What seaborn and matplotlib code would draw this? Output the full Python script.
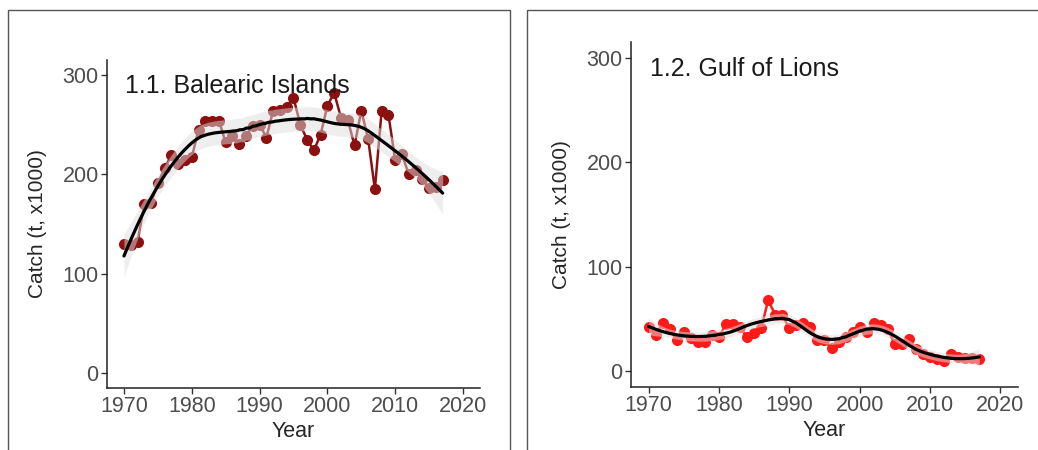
import numpy as np
import pandas as pd
import matplotlib
matplotlib.use("Agg")
import matplotlib.pyplot as plt
from matplotlib.patches import Rectangle
import seaborn as sns

# yearly catch, t x1000
years = list(range(1970, 2018))
balearic = [130, 129, 132, 170, 171, 191, 206, 219, 210, 214,
            217, 245, 254, 254, 254, 232, 239, 230, 239, 249,
            250, 237, 264, 265, 268, 277, 250, 235, 224, 240,
            269, 282, 257, 255, 229, 264, 236, 185, 264, 260,
            214, 220, 200, 204, 195, 186, 187, 194]
gulf_lions = [42, 35, 46, 40, 30, 38, 32, 28, 28, 35,
              33, 45, 45, 42, 33, 37, 41, 68, 54, 54,
              41, 44, 46, 42, 30, 30, 22, 28, 33, 38,
              42, 38, 46, 44, 40, 26, 26, 31, 21, 17,
              14, 12, 10, 17, 14, 13, 13, 12]
panel_titles = ["1.1. Balearic Islands", "1.2. Gulf of Lions"]
year_ticks = [1970, 1980, 1990, 2000, 2010, 2020]
catch_ticks = [0, 100, 200, 300]


def loess(x, y, span=0.3, n_grid=100):
    # local quadratic fit with tricube weights, plus a 95% band
    x = np.asarray(x, float)
    y = np.asarray(y, float)
    n = len(x)
    k = int(np.ceil(span * n))
    X = np.column_stack([np.ones(n), x - x.mean(), (x - x.mean()) ** 2])

    def row(x0):
        d = np.abs(x - x0)
        h = np.sort(d)[k - 1] * max(1.0, span)
        w = np.clip(1 - (d / h) ** 3, 0, None) ** 3
        x0c = x0 - x.mean()
        W = np.diag(w)
        A = X.T @ W @ X
        return np.array([1, x0c, x0c ** 2]) @ np.linalg.solve(A, X.T @ W)

    L = np.array([row(v) for v in x])
    resid = y - L @ y
    dof = n - np.trace(L)
    sigma = np.sqrt(np.sum(resid ** 2) / dof)
    grid = np.linspace(x.min(), x.max(), n_grid)
    Lg = np.array([row(v) for v in grid])
    fit = Lg @ y
    se = sigma * np.sqrt(np.sum(Lg ** 2, axis=1))
    return grid, fit, 2.01 * se


df = pd.DataFrame({"Year": years, "Balearic": balearic, "Gulf": gulf_lions})

sns.set_style("ticks")
plt.rcParams['font.family'] = ['Liberation Sans', 'DejaVu Sans']

fig = plt.figure(figsize=(10.38, 4.5), dpi=100)

# panel frames
fig.patches.append(Rectangle((0.0077, -0.1), 0.4836, 1.0778, transform=fig.transFigure,
                             fill=False, edgecolor='#555555', lw=1.0))
fig.patches.append(Rectangle((0.5077, -0.1), 0.55, 1.0778, transform=fig.transFigure,
                             fill=False, edgecolor='#555555', lw=1.0))

ax1 = fig.add_axes([0.1031, 0.1378, 0.3593, 0.7289])
ax2 = fig.add_axes([0.6079, 0.1400, 0.3728, 0.7667])

panels = [(ax1, "Balearic", "#8B1010", panel_titles[0], 0.5),
          (ax2, "Gulf", "#FF1A1A", panel_titles[1], 0.38)]

for ax, col, color, title, span in panels:
    sns.lineplot(data=df, x="Year", y=col, ax=ax, color=color, lw=1.8,
                 marker='o', markersize=8, markeredgewidth=0, zorder=2)
    gx, gfit, band = loess(df["Year"], df[col], span=span)
    ax.fill_between(gx, gfit - band, gfit + band, color='#DEDEDE', alpha=0.5,
                    lw=0, zorder=3)
    ax.plot(gx, gfit, color='black', lw=2.3, zorder=4)

    ax.set_xlim(1967.5, 2022.5)
    ax.set_ylim(-15, 315)
    ax.set_xticks(year_ticks)
    ax.set_yticks(catch_ticks)
    ax.set_xlabel("Year", fontsize=15.5, labelpad=3)
    ax.set_ylabel("Catch (t, x1000)", fontsize=15, labelpad=11)
    ax.tick_params(labelsize=15.5, colors='#333333', labelcolor='#4D4D4D',
                   length=4, width=1, pad=2)
    for s in ['left', 'bottom']:
        ax.spines[s].set_color('#222222')
        ax.spines[s].set_linewidth(1.1)
    sns.despine(ax=ax)
    ax.text(1970.2, 282, title, fontsize=18, color='#1A1A1A', va='baseline', zorder=5)

fig.savefig("out.png", dpi=100)
